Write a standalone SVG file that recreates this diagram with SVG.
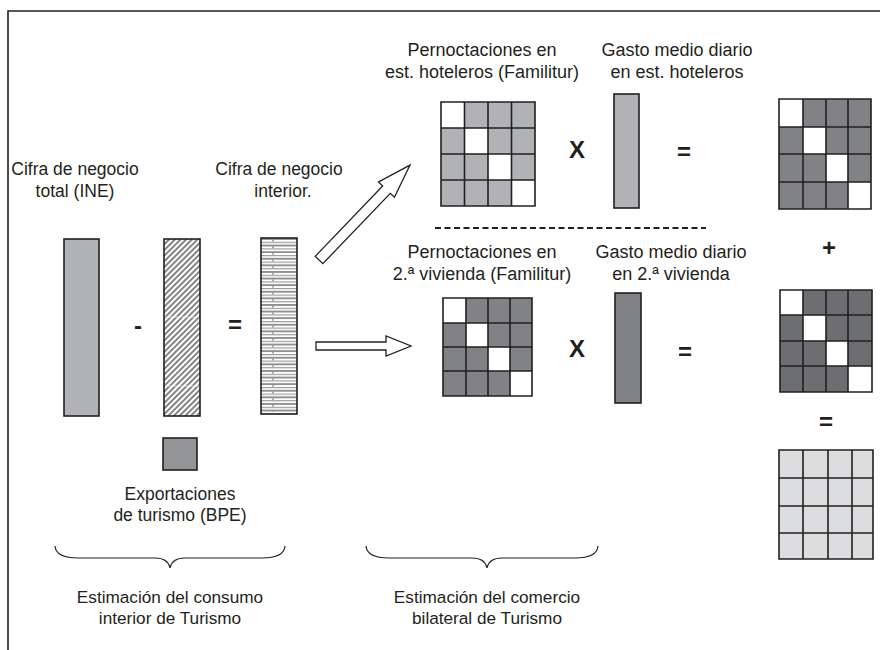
<svg xmlns="http://www.w3.org/2000/svg" width="880" height="650" viewBox="0 0 880 650">
<defs>
<pattern id="hatch" width="4" height="4" patternUnits="userSpaceOnUse" patternTransform="rotate(45)">
<rect width="4" height="4" fill="#ffffff"/>
<line x1="1" y1="0" x2="1" y2="4" stroke="#6f6f6f" stroke-width="1.7"/>
</pattern>
<pattern id="stripes" x="0" y="238" width="36" height="6.6" patternUnits="userSpaceOnUse">
<rect width="36" height="6.6" fill="#ffffff"/>
<line x1="0" y1="1" x2="36" y2="1" stroke="#231f20" stroke-width="1"/>
<line x1="0" y1="4.3" x2="36" y2="4.3" stroke="#9a9a9a" stroke-width="1.2"/>
</pattern>
</defs>
<style>
text{font-family:"Liberation Sans",Arial,sans-serif;font-size:17.5px;fill:#231f20;text-anchor:middle}
.big{font-size:18px}
.small{font-size:17.2px}
.op{font-weight:bold;font-size:24px}
.bx{stroke:#231f20;stroke-width:1.6}
.gl{stroke:#231f20;stroke-width:1.6;fill:none}
.arrow{fill:#ffffff;stroke:#231f20;stroke-width:1.3;stroke-linejoin:miter}
.brace{fill:none;stroke:#231f20;stroke-width:1.2}
</style>
<rect width="880" height="650" fill="#ffffff"/>
<g id="frame">
<path d="M8 650 V11 H880" fill="none" stroke="#231f20" stroke-width="1.6"/>
</g>

<g id="cifra-total">
<text x="75" y="175">Cifra de negocio</text>
<text x="75" y="197">total (INE)</text>
<rect x="64" y="239" width="35" height="177" fill="#b1b2b5" class="bx"/>
</g>
<g id="op-minus"><text class="op" x="138" y="334">-</text></g>
<g id="hatched-bar">
<rect x="164" y="239" width="36" height="177" fill="url(#hatch)" class="bx"/>
<line x1="165" y1="317" x2="199" y2="317" stroke="#ffffff" stroke-width="0.8" opacity="0.8"/>
<line x1="165" y1="386" x2="199" y2="386" stroke="#ffffff" stroke-width="0.8" opacity="0.8"/>
</g>
<g id="op-eq1"><text class="op" x="235" y="333">=</text></g>
<g id="cifra-interior">
<text x="279" y="175">Cifra de negocio</text>
<text x="283" y="197">interior.</text>
<rect x="261" y="238" width="36" height="176" fill="url(#stripes)" class="bx"/>
<line x1="273" y1="240" x2="273" y2="412" stroke="#231f20" stroke-width="0.8" stroke-dasharray="1.5,5.1"/>
</g>
<g id="exportaciones">
<rect x="163" y="438" width="34" height="32" fill="#939598" class="bx"/>
<text x="180" y="500">Exportaciones</text>
<text x="180" y="521">de turismo (BPE)</text>
</g>

<g id="connectors">
<polygon class="arrow" transform="translate(319,260) rotate(-46.2)" points="0,-5.3 97.5,-5.3 97.5,-11 131.5,0 97.5,11 97.5,5.3 0,5.3"/>
<polygon class="arrow" points="316,342 386,342 386,336 411,346 386,356 386,350 316,350"/>
</g>

<g id="pern-hotel">
<text class="big" x="482" y="56">Pernoctaciones en</text>
<text class="big" x="482" y="78">est. hoteleros (Familitur)</text>
<rect x="441" y="102" width="94" height="104" fill="#b1b2b5"/>
<rect x="441" y="102" width="23.5" height="26" fill="#ffffff"/>
<rect x="464.5" y="128" width="23.5" height="26" fill="#ffffff"/>
<rect x="488" y="154" width="23.5" height="26" fill="#ffffff"/>
<rect x="511.5" y="180" width="23.5" height="26" fill="#ffffff"/>
<path class="gl" d="M441 102 H535 V206 H441 Z M464.5 102 V206 M488 102 V206 M511.5 102 V206 M441 128 H535 M441 154 H535 M441 180 H535"/>
</g>
<g id="op-x1"><text class="op" x="577" y="158">X</text></g>
<g id="gasto-hotel">
<text class="big" x="677" y="56">Gasto medio diario</text>
<text class="big" x="677" y="78">en est. hoteleros</text>
<rect x="614" y="94" width="25" height="114" fill="#b1b2b5" class="bx"/>
</g>
<g id="op-eq2"><text class="op" x="684" y="160">=</text></g>

<g id="separator">
<line x1="435" y1="228" x2="706" y2="228" stroke="#231f20" stroke-width="2" stroke-dasharray="6,3.5"/>
</g>

<g id="pern-vivienda">
<text class="big" x="482" y="258">Pernoctaciones en</text>
<text class="big" x="482" y="280">2.ª vivienda (Familitur)</text>
<rect x="443" y="298" width="89" height="98" fill="#808285"/>
<rect x="443" y="298" width="23" height="25" fill="#ffffff"/>
<rect x="466" y="323" width="22" height="24" fill="#ffffff"/>
<rect x="488" y="347" width="22" height="24" fill="#ffffff"/>
<rect x="510" y="371" width="22" height="25" fill="#ffffff"/>
<path class="gl" d="M443 298 H532 V396 H443 Z M466 298 V396 M488 298 V396 M510 298 V396 M443 323 H532 M443 347 H532 M443 371 H532"/>
</g>
<g id="op-x2"><text class="op" x="577" y="357">X</text></g>
<g id="gasto-vivienda">
<text class="big" x="671" y="258">Gasto medio diario</text>
<text class="big" x="671" y="280">en 2.ª vivienda</text>
<rect x="615" y="293" width="26" height="110" fill="#808285" class="bx"/>
</g>
<g id="op-eq3"><text class="op" x="685" y="360">=</text></g>

<g id="result-hotel">
<rect x="779" y="99" width="92" height="110" fill="#808285"/>
<rect x="779" y="99" width="24" height="28" fill="#ffffff"/>
<rect x="803" y="127" width="23" height="27" fill="#ffffff"/>
<rect x="826" y="154" width="22" height="28" fill="#ffffff"/>
<rect x="848" y="182" width="23" height="27" fill="#ffffff"/>
<path class="gl" d="M779 99 H871 V209 H779 Z M803 99 V209 M826 99 V209 M848 99 V209 M779 127 H871 M779 154 H871 M779 182 H871"/>
</g>
<g id="op-plus"><text class="op" x="829" y="256">+</text></g>
<g id="result-vivienda">
<rect x="780" y="290" width="92" height="102" fill="#6d6e71"/>
<rect x="780" y="290" width="23" height="25" fill="#ffffff"/>
<rect x="803" y="315" width="23" height="26" fill="#ffffff"/>
<rect x="826" y="341" width="22" height="25" fill="#ffffff"/>
<rect x="848" y="366" width="24" height="26" fill="#ffffff"/>
<path class="gl" d="M780 290 H872 V392 H780 Z M803 290 V392 M826 290 V392 M848 290 V392 M780 315 H872 M780 341 H872 M780 366 H872"/>
</g>
<g id="op-eq4"><text class="op" x="826" y="430">=</text></g>
<g id="result-total">
<rect x="779" y="450" width="94" height="109" fill="#dcdddf"/>
<path class="gl" d="M779 450 H873 V559 H779 Z M803 450 V559 M828 450 V559 M852 450 V559 M779 478 H873 M779 506 H873 M779 533 H873"/>
</g>

<g id="brace-consumo">
<path class="brace" d="M55 546 Q56 558 78 558 H155 Q168 558 170 568 Q172 558 185 558 H262 Q284 558 285 546"/>
<text class="small" x="170" y="603">Estimación del consumo</text>
<text class="small" x="170" y="624">interior de Turismo</text>
</g>
<g id="brace-comercio">
<path class="brace" d="M366 546 Q367 558 389 558 H472 Q485 558 487 568 Q489 558 502 558 H575 Q597 558 598 546"/>
<text class="small" x="487" y="603">Estimación del comercio</text>
<text class="small" x="487" y="624">bilateral de Turismo</text>
</g>
</svg>
